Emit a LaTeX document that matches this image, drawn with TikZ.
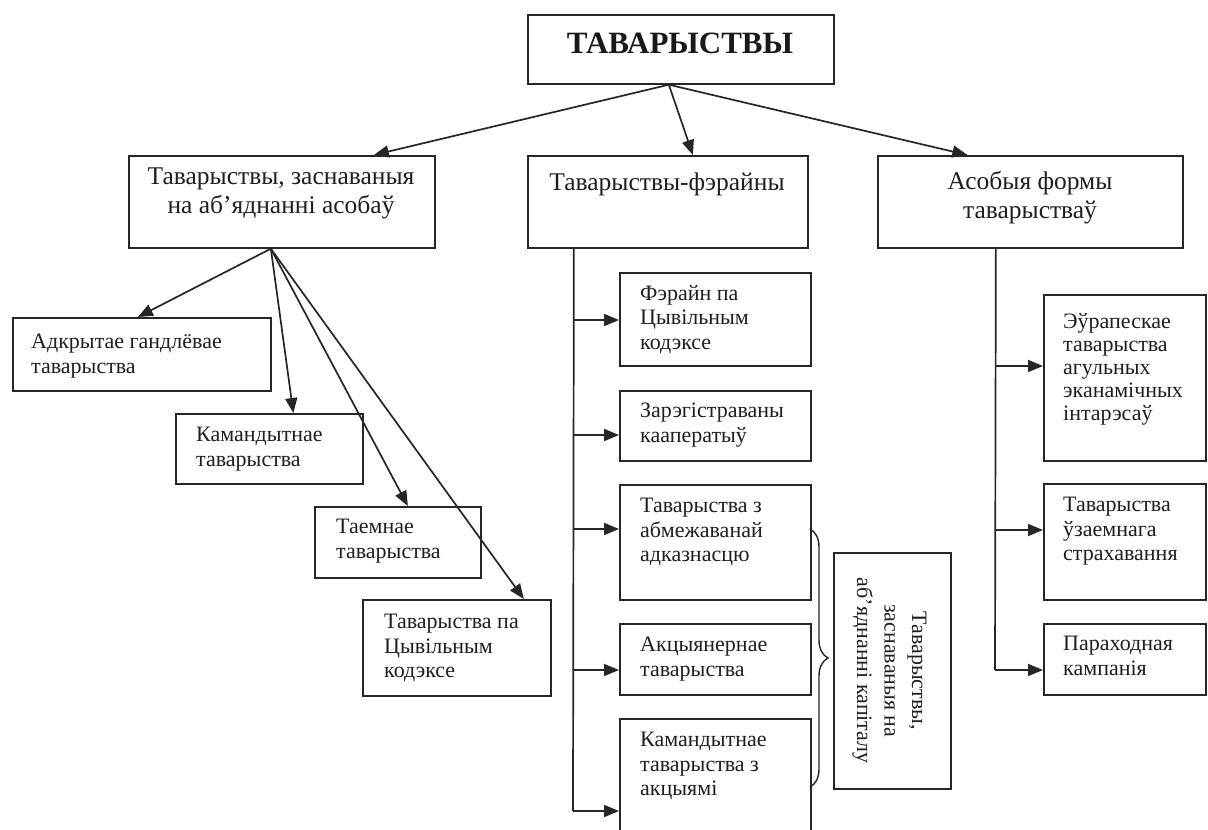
\documentclass[tikz,border=0pt]{standalone}
\usepackage{fontspec}
\setmainfont{Liberation Serif}
\usetikzlibrary{arrows.meta,decorations.pathreplacing}
\begin{document}
\begin{tikzpicture}[x=1pt,y=-1pt,
  box/.style={draw=black!85,line width=1.7pt,inner sep=0pt,anchor=north west},
  sm/.style={inner sep=0pt,anchor=north west,align=left,text=black!88,font=\fontsize{22}{24.5}\selectfont},
  big/.style={inner sep=0pt,anchor=north,align=center,text=black!88,font=\fontsize{25.5}{29}\selectfont},
  arr/.style={draw=black!85,line width=1.7pt,-{Triangle[length=15pt,width=12pt]}},
  ln/.style={draw=black!85,line width=1.7pt}]
\fill[white] (0,0) rectangle (1208,830);
\useasboundingbox (0,0) rectangle (1208,830);

% level 0
\node[box,minimum width=306pt,minimum height=69pt] (T) at (527,14) {};
\node[inner sep=0pt,text=black!90,font=\fontsize{31}{31}\selectfont\bfseries] (Tt) at (680,43) {ТАВАРЫСТВЫ};

% level 1
\node[box,minimum width=306pt,minimum height=92pt] (L) at (128,155) {};
\node[box,minimum width=280pt,minimum height=92pt] (M) at (527,155) {};
\node[box,minimum width=305pt,minimum height=92pt] (R) at (877,155) {};
\node[big] (Lt) at (281,168) {Таварыствы, заснаваныя\\на аб’яднанні асобаў};
\node[big] (Mt) at (667,173) {Таварыствы-фэрайны};
\node[big] (Rt) at (1030,171) {Асобыя формы\\таварыстваў};

\draw[arr] ([xshift=-12pt]T.south) -- ([xshift=92pt]L.north);
\draw[arr] ([xshift=-12pt]T.south) -- ([xshift=25pt]M.north);
\draw[arr] ([xshift=-12pt]T.south) -- ([xshift=-63pt]R.north);

% left branch
\node[box,minimum width=258pt,minimum height=73pt] (A1) at (12,317) {};
\node[box,minimum width=187pt,minimum height=70pt] (A2) at (175,413) {};
\node[box,minimum width=166pt,minimum height=71pt] (A3) at (314,506) {};
\node[box,minimum width=188pt,minimum height=96pt] (A4) at (362,599) {};
\node[sm] (A1t) at (31,334) {Адкрытае гандлёвае\\таварыства};
\node[sm] (A2t) at (196,427) {Камандытнае\\таварыства};
\node[sm] (A3t) at (336,519) {Таемнае\\таварыства};
\node[sm] (A4t) at (384,614) {Таварыства па\\Цывільным\\кодэксе};
\draw[arr] ([xshift=-11pt]L.south) -- ([xshift=-4pt]A1.north);
\draw[arr] ([xshift=-11pt]L.south) -- ([xshift=24pt]A2.north);
\draw[arr] ([xshift=-11pt]L.south) -- ([xshift=10pt]A3.north);
\draw[arr] ([xshift=-11pt]L.south) -- ([xshift=67pt]A4.north);

% middle branch
\node[box,minimum width=191pt,minimum height=93pt] (M1) at (619,272) {};
\node[box,minimum width=191pt,minimum height=70pt] (M2) at (619,390) {};
\node[box,minimum width=191pt,minimum height=115pt] (M3) at (619,484) {};
\node[box,minimum width=191pt,minimum height=71pt] (M4) at (619,623) {};
\node[box,minimum width=191pt,minimum height=125pt] (M5) at (619,718) {};
\node[sm] (M1t) at (640,285) {Фэрайн па\\Цывільным\\кодэксе};
\node[sm] (M2t) at (640,403) {Зарэгістраваны\\кааператыў};
\node[sm] (M3t) at (640,498) {Таварыства з\\абмежаванай\\адказнасцю};
\node[sm] (M4t) at (640,637) {Акцыянернае\\таварыства};
\node[sm] (M5t) at (640,732) {Камандытнае\\таварыства з\\акцыямі};
\coordinate (mtop) at ([xshift=-94pt]M.south);
\coordinate (m1) at (573,320);
\coordinate (m2) at (573,435);
\coordinate (m3) at (573,529);
\coordinate (m4) at (573,670);
\coordinate (m5) at (573,811);
\draw[ln] (mtop) -- (m5);
\draw[arr] (m1) -- (m1 -| M1.west);
\draw[arr] (m2) -- (m2 -| M2.west);
\draw[arr] (m3) -- (m3 -| M3.west);
\draw[arr] (m4) -- (m4 -| M4.west);
\draw[arr] (m5) -- (m5 -| M5.west);

% brace and capital box
\coordinate (bt) at (810,529);
\coordinate (bb) at (810,787);
\draw[ln,line width=1.4pt,decorate,decoration={brace,amplitude=18pt}] (bt) -- (bb);
\node[box,minimum width=117pt,minimum height=236pt] (K) at (833,552) {};
\node[inner sep=0pt,rotate=-90,align=center,text=black!88,font=\fontsize{22}{27.5}\selectfont] (Kt) at ([xshift=-3pt]K.center) {Таварыствы,\\заснаваныя на\\аб’яднанні капіталу};

% right branch
\node[box,minimum width=162pt,minimum height=166pt] (R1) at (1043,294) {};
\node[box,minimum width=162pt,minimum height=116pt] (R2) at (1043,483) {};
\node[box,minimum width=162pt,minimum height=71pt] (R3) at (1043,623) {};
\node[sm,font=\fontsize{22}{23}\selectfont] (R1t) at (1063,313) {Эўрапескае\\таварыства\\агульных\\эканамічных\\інтарэсаў};
\node[sm] (R2t) at (1063,497) {Таварыства\\ўзаемнага\\страхавання};
\node[sm] (R3t) at (1063,636) {Параходная\\кампанія};
\coordinate (rtop) at ([xshift=-34.5pt]R.south);
\coordinate (r1) at (995,366);
\coordinate (r2) at (995,530);
\coordinate (r3) at (995,670);
\draw[ln] (rtop) -- (r3);
\draw[arr] (r1) -- (r1 -| R1.west);
\draw[arr] (r2) -- (r2 -| R2.west);
\draw[arr] (r3) -- (r3 -| R3.west);
\end{tikzpicture}
\end{document}
